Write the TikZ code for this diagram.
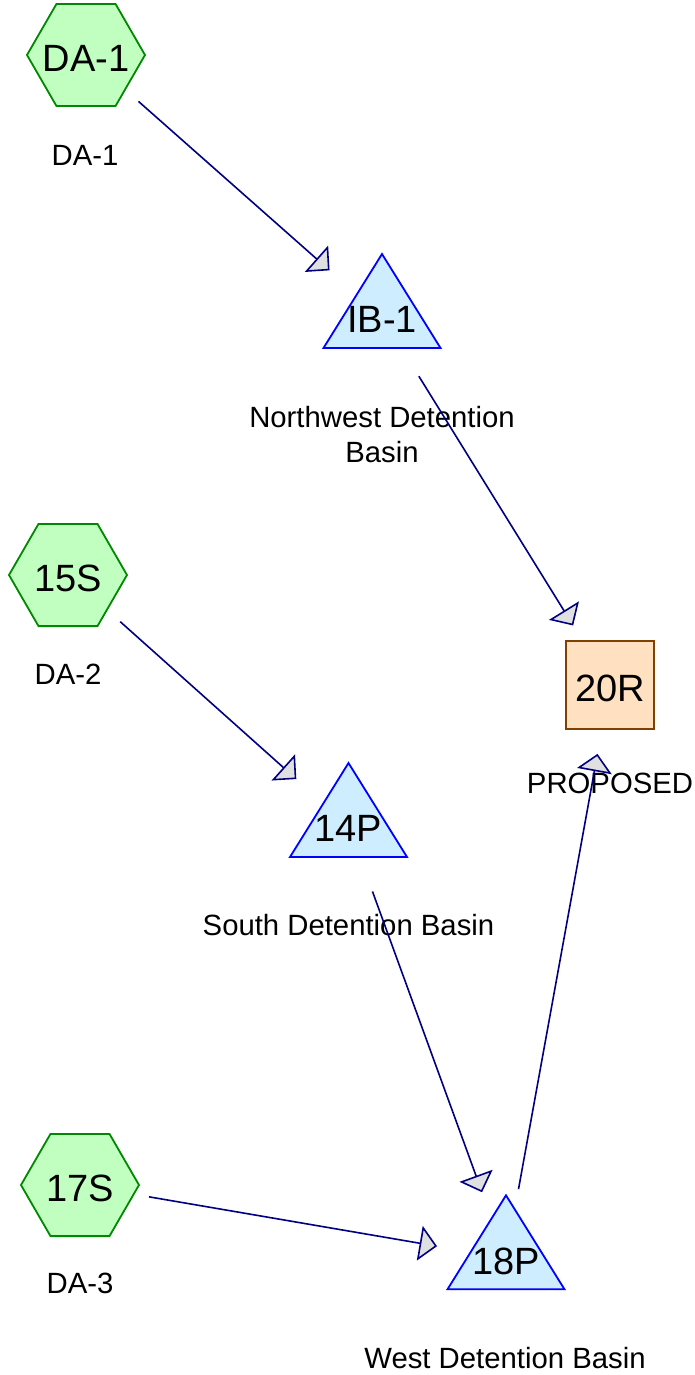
\documentclass[tikz,border=0pt]{standalone}
\usepackage{fontspec}
\setmainfont{Liberation Sans}
\usetikzlibrary{shapes.geometric,arrows.meta}
\definecolor{hexfill}{RGB}{192,255,192}
\definecolor{hexline}{RGB}{0,136,0}
\definecolor{trifill}{RGB}{206,238,255}
\definecolor{triline}{RGB}{0,0,255}
\definecolor{sqfill}{RGB}{255,224,192}
\definecolor{sqline}{RGB}{128,64,0}
\definecolor{linkcol}{RGB}{0,0,128}
\definecolor{tipfill}{RGB}{224,224,224}
\tikzset{
  bigtext/.style={font=\fontsize{38}{42}\selectfont, inner sep=0pt, yshift=-3pt},
  subarea/.style={draw=hexline, fill=hexfill, line width=1.8pt,
    regular polygon, regular polygon sides=6, minimum size=118pt, inner sep=0pt,
    label={[bigtext]center:#1}},
  reach/.style={draw=sqline, fill=sqfill, line width=1.8pt,
    rectangle, minimum size=88pt, inner sep=0pt, label={[bigtext]center:#1}},
  pondpt/.style={inner sep=0pt, minimum size=0pt, label={[bigtext]center:#1}},
  pondshape/.style={draw=triline, fill=trifill, line width=1.8pt},
  pond/.pic={\path[pondshape] (0,-62.7) -- (58.5,31.3) -- (-58.5,31.3) -- cycle;},
  lbl/.style={font=\fontsize{29.3}{35}\selectfont, align=center, inner sep=0pt},
  link/.style={draw=linkcol, line width=1.6pt, shorten >=70pt, shorten <=70pt,
    -{Triangle[length=17.5pt, width=35pt, fill=tipfill]}},
}
\begin{document}
\begin{tikzpicture}[x=1pt, y=-1pt]
\useasboundingbox (0,0) rectangle (695,1375);
% subareas
\node[subarea=DA-1] (DA1) at (86,55) {};
\node[subarea=15S] (S15) at (68,575) {};
\node[subarea=17S] (S17) at (80,1185) {};
% ponds
\pic at (382,316.7) {pond};
\node[pondpt=IB-1] (IB1) at (382,316.7) {};
\pic at (348.5,825.7) {pond};
\node[pondpt=14P] (P14) at (348.5,825.7) {};
\pic at (506,1258) {pond};
\node[pondpt=18P] (P18) at (506,1258) {};
% reach
\node[reach=20R] (R20) at (610,685) {};
% labels
\node[lbl] (lDA1) at (85,155) {DA-1};
\node[lbl] (lDA2) at (68,674) {DA-2};
\node[lbl] (lDA3) at (80,1283) {DA-3};
\node[lbl] (lIB1) at (382,434.5) {Northwest Detention\\Basin};
\node[lbl] (lP14) at (348.5,925) {South Detention Basin};
\node[lbl] (lP18) at (505,1358) {West Detention Basin};
\node[lbl] (lR20) at (610,783) {PROPOSED};
% links
\draw[link] (DA1.center) -- (IB1.center);
\draw[link] (IB1.center) -- (R20.center);
\draw[link] (S15.center) -- (P14.center);
\draw[link] (P14.center) -- (P18.center);
\draw[link] (S17.center) -- (P18.center);
\draw[link] (P18.center) -- (R20.center);
\end{tikzpicture}
\end{document}
